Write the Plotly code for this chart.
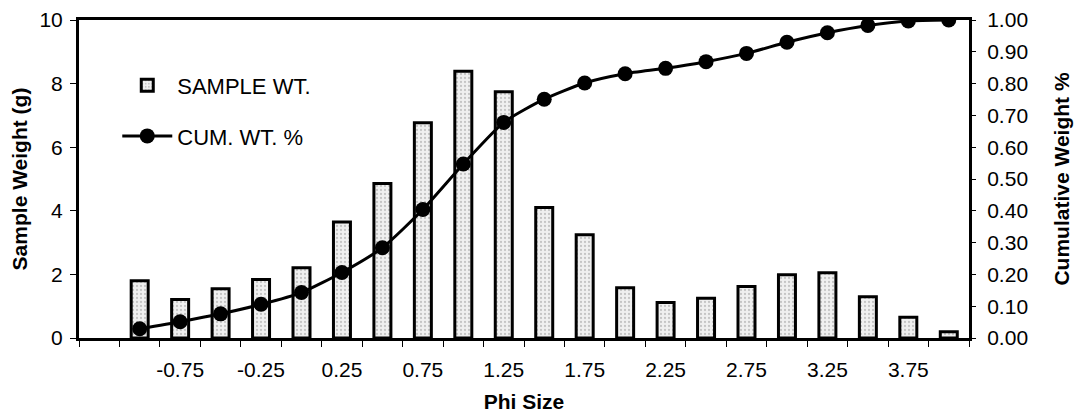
import plotly.graph_objects as go

phi = [-1.0, -0.75, -0.5, -0.25, 0.0, 0.25, 0.5, 0.75, 1.0, 1.25, 1.5,
       1.75, 2.0, 2.25, 2.5, 2.75, 3.0, 3.25, 3.5, 3.75, 4.0]
sample_wt = [1.8, 1.21, 1.55, 1.84, 2.21, 3.65, 4.86, 6.77, 8.39, 7.74, 4.1,
             3.25, 1.58, 1.12, 1.25, 1.62, 1.99, 2.05, 1.3, 0.65, 0.2]
cum_wt = [0.029, 0.051, 0.076, 0.106, 0.143, 0.206, 0.284, 0.404, 0.547, 0.678,
          0.751, 0.802, 0.831, 0.848, 0.869, 0.895, 0.930, 0.960, 0.983, 0.997, 1.0]
x_tick_vals = [-0.75, -0.25, 0.25, 0.75, 1.25, 1.75, 2.25, 2.75, 3.25, 3.75]
x_tick_text = ["-0.75", "-0.25", "0.25", "0.75", "1.25", "1.75", "2.25", "2.75", "3.25", "3.75"]

FONT = "Arial, Liberation Sans, sans-serif"
FS = 21

fig = go.Figure()
fig.add_trace(go.Bar(
    x=phi, y=sample_wt, name="SAMPLE WT.", width=0.105,
    marker=dict(color="#e4e4e4",
                line=dict(color="black", width=3),
                pattern=dict(shape=".", fgcolor="#9a9a9a", bgcolor="#f0f0f0",
                             size=4, solidity=0.25)),
    legendgroup="a", yaxis="y",
))
fig.add_trace(go.Scatter(
    x=phi, y=cum_wt, name="CUM. WT. %", mode="lines+markers",
    line=dict(color="black", width=3, shape="spline", smoothing=0.6),
    marker=dict(color="black", size=15, symbol="circle"),
    legendgroup="b", yaxis="y2",
))

# page body has an 8px default margin, so the canvas is 8px smaller
fig.update_layout(
    width=1074, height=406,
    margin=dict(l=71, r=113, t=12, b=76, autoexpand=False),
    paper_bgcolor="white", plot_bgcolor="white",
    font=dict(family=FONT, color="black", size=FS),
    showlegend=True,
    legend=dict(x=0.043, y=0.86, xanchor="left", yanchor="top",
                bgcolor="rgba(0,0,0,0)", font=dict(size=22, family=FONT),
                tracegroupgap=19, itemwidth=50, traceorder="grouped"),
    xaxis=dict(
        range=[-1.375, 4.125], showgrid=False, zeroline=False, automargin=False,
        showline=True, linecolor="black", linewidth=3, mirror=True,
        tickmode="array", tickvals=x_tick_vals, ticktext=x_tick_text,
        ticks="", ticklabelstandoff=11,
        tickfont=dict(size=FS, family=FONT),
        minor=dict(tick0=-1.375, dtick=0.25, ticks="outside", ticklen=6,
                   tickcolor="black", tickwidth=1, showgrid=False),
        title=dict(text="<b>Phi Size</b>", font=dict(size=FS, family=FONT), standoff=15),
    ),
    yaxis=dict(
        range=[0, 10], dtick=2, showgrid=False, zeroline=False, automargin=False,
        showline=True, linecolor="black", linewidth=3,
        ticks="outside", ticklen=6, tickcolor="black", tickwidth=1,
        ticklabelstandoff=3,
        tickfont=dict(size=FS, family=FONT),
        title=dict(text="<b>Sample Weight (g)</b>", font=dict(size=FS, family=FONT), standoff=11),
    ),
    yaxis2=dict(
        range=[0, 1.0], dtick=0.1, tickformat=".2f", overlaying="y", side="right",
        showgrid=False, zeroline=False, automargin=False,
        showline=True, linecolor="black", linewidth=3,
        ticks="outside", ticklen=4, tickcolor="black", tickwidth=1,
        ticklabelstandoff=7,
        tickfont=dict(size=FS, family=FONT),
        title=dict(text="<b>Cumulative Weight %</b>", font=dict(size=FS, family=FONT), standoff=28),
    ),
)

fig.write_html("out.html")
